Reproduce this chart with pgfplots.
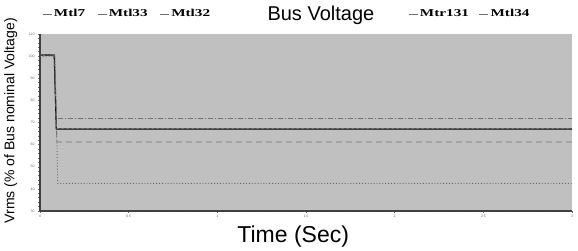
\documentclass[border=0pt]{standalone}
\usepackage{fontspec}
\setmainfont{Liberation Sans}
\newfontfamily\legfont[FakeStretch=1.45]{Liberation Serif}
\usepackage{pgfplots}
\pgfplotsset{compat=1.18}
\definecolor{bg}{RGB}{192,192,192}
\definecolor{ln}{RGB}{110,110,110}
\begin{document}
\begin{tikzpicture}
\begin{axis}[
  name=main,
  at={(0,0)}, anchor=south west,
  scale only axis, width=532pt, height=177pt,
  xmin=0, xmax=3, ymin=30, ymax=110,
  axis lines*=left,
  axis line style={draw=black!75, line width=1.2pt},
  axis background/.style={fill=bg},
  xtick={0,0.5,...,3}, ytick={30,40,...,110},
  minor x tick num=4, minor y tick num=4,
  tick style={black!60, line width=0.5pt},
  tick align=outside, major tick length=2pt, minor tick length=1.5pt,
  ticklabel style={font=\fontsize{3.5}{4}\selectfont, text=black!60},
  /pgf/number format/assume math mode=true,
  xticklabel style={yshift=1pt},
  xlabel={Time (Sec)},
  xlabel style={font=\fontsize{23}{26}\selectfont, at={(axis description cs:0.476,-0.147)}, anchor=center},
  ylabel={Vrms (\% of Bus nominal Voltage)},
  ylabel style={font=\fontsize{14}{16}\selectfont, at={(axis description cs:-0.055,0.51)}, anchor=center},
  title={Bus Voltage},
  title style={font=\fontsize{20}{22}\selectfont, at={(axis description cs:0.528,1.113)}, anchor=center, yshift=-7pt},
  legend style={at={(axis description cs:0.004,1.113)}, anchor=west, draw=none, fill=none,
    font=\legfont\bfseries\fontsize{10.5}{11}\selectfont, legend columns=3,
    /tikz/every even column/.append style={column sep=10pt}, inner sep=0pt},
  legend image code/.code={\draw[ln, solid, line width=0.6pt] (0pt,0pt) -- (9pt,0pt);},
  clip=false,
]
\addplot[black, line width=1.1pt] coordinates {(0,100.5) (0.08,100.5) (0.092,67) (3,67)};
\addlegendentry{Mtl7}
\addplot[black!55, dashed, dash pattern=on 6pt off 4pt, line width=0.8pt] coordinates {(0,100.2) (0.082,100.2) (0.095,61.2) (3,61.2)};
\addlegendentry{Mtl33}
\addplot[black!60, dotted, line width=0.9pt] coordinates {(0,100) (0.085,100) (0.1,42.5) (3,42.5)};
\addlegendentry{Mtl32}
\addplot[black!55, dash pattern=on 5pt off 2pt on 1pt off 2pt, line width=0.8pt] coordinates {(0,100.6) (0.082,100.6) (0.093,71.8) (3,71.8)};
\addplot[black!80, densely dashed, line width=0.7pt] coordinates {(0,100.4) (0.08,100.4) (0.092,67.2) (3,67.2)};
\end{axis}
\begin{axis}[
  at={(0,0)}, anchor=south west,
  scale only axis, width=532pt, height=177pt,
  xmin=0, xmax=3, ymin=30, ymax=110,
  hide axis,
  legend style={at={(axis description cs:0.692,1.113)}, anchor=west, draw=none, fill=none,
    font=\legfont\bfseries\fontsize{10.5}{11}\selectfont, legend columns=2,
    /tikz/every even column/.append style={column sep=8pt}, inner sep=0pt},
  legend image code/.code={\draw[ln, solid, line width=0.6pt] (0pt,0pt) -- (9pt,0pt);},
]
\addlegendimage{ln}
\addlegendentry{Mtr131}
\addlegendimage{ln}
\addlegendentry{Mtl34}
\end{axis}
\pgfresetboundingbox
\path (-40pt,-40pt) rectangle (538pt,211pt);
\end{tikzpicture}
\end{document}
